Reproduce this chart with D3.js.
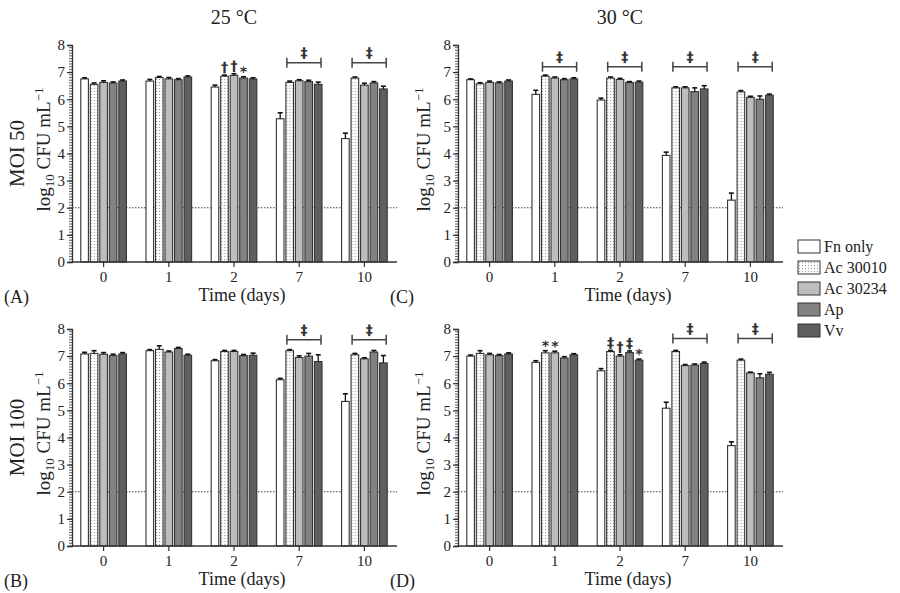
<!DOCTYPE html>
<html><head><meta charset="utf-8">
<script src="https://cdn.jsdelivr.net/npm/d3@7/dist/d3.min.js"></script>
<style>body{margin:0;background:#fff}svg{display:block}text{font-family:"Liberation Serif","Times New Roman",serif;fill:#222}text.sym{font-family:"DejaVu Sans",sans-serif;fill:#333}</style>
</head><body><svg id="c" width="900" height="593"></svg>
<script>
const days = ["0","1","2","7","10"];
const series = ["Fn only","Ac 30010","Ac 30234","Ap","Vv"];
const yTickValues = [0,1,2,3,4,5,6,7,8];
const detectionLimit = 2;

// Panel A: MOI 50, 25 °C  (rows = days, columns = series)
const meanA = [[6.75,6.55,6.62,6.60,6.67],[6.67,6.80,6.75,6.72,6.82],[6.45,6.85,6.88,6.78,6.75],[5.28,6.62,6.68,6.65,6.55],[4.55,6.78,6.52,6.60,6.38]];
const errA  = [[0.04,0.05,0.06,0.04,0.04],[0.06,0.04,0.05,0.04,0.04],[0.07,0.04,0.06,0.05,0.04],[0.22,0.05,0.04,0.05,0.08],[0.20,0.04,0.07,0.05,0.10]];
// Panel C: MOI 50, 30 °C
const meanC = [[6.72,6.57,6.62,6.60,6.67],[6.18,6.85,6.78,6.72,6.75],[5.97,6.78,6.73,6.62,6.63],[3.93,6.42,6.42,6.28,6.38],[2.28,6.27,6.07,6.00,6.15]];
const errC  = [[0.03,0.04,0.05,0.04,0.04],[0.15,0.04,0.04,0.04,0.04],[0.07,0.04,0.04,0.03,0.04],[0.12,0.04,0.04,0.14,0.12],[0.26,0.05,0.04,0.12,0.04]];
// Panel B: MOI 100, 25 °C
const meanB = [[7.08,7.10,7.07,7.02,7.08],[7.20,7.25,7.15,7.28,7.03],[6.83,7.17,7.17,7.02,7.03],[6.13,7.20,6.95,7.00,6.80],[5.33,7.05,6.90,7.15,6.75]];
const errB  = [[0.06,0.10,0.06,0.05,0.05],[0.04,0.13,0.04,0.04,0.04],[0.04,0.04,0.04,0.04,0.08],[0.05,0.04,0.06,0.10,0.25],[0.28,0.05,0.04,0.06,0.27]];
// Panel D: MOI 100, 30 °C
const meanD = [[7.00,7.10,7.05,7.02,7.08],[6.77,7.12,7.12,6.93,7.05],[6.46,7.17,7.00,7.13,6.85],[5.08,7.17,6.65,6.67,6.73],[3.70,6.85,6.38,6.20,6.33]];
const errD  = [[0.04,0.10,0.05,0.04,0.04],[0.06,0.08,0.06,0.05,0.04],[0.08,0.04,0.05,0.06,0.04],[0.22,0.04,0.04,0.04,0.05],[0.14,0.04,0.03,0.15,0.07]];

// significance marks: bracket over day (series 2..5) or single mark over one bar
const annA = [{day:"2",bar:1,sym:"†"},{day:"2",bar:2,sym:"†"},{day:"2",bar:3,sym:"*"},{day:"7",sym:"‡"},{day:"10",sym:"‡"}];
const annC = [{day:"1",sym:"‡"},{day:"2",sym:"‡"},{day:"7",sym:"‡"},{day:"10",sym:"‡"}];
const annB = [{day:"7",sym:"‡"},{day:"10",sym:"‡"}];
const annD = [{day:"1",bar:1,sym:"*"},{day:"1",bar:2,sym:"*"},{day:"2",bar:1,sym:"‡"},{day:"2",bar:2,sym:"†"},{day:"2",bar:3,sym:"‡"},{day:"2",bar:4,sym:"*"},{day:"7",sym:"‡"},{day:"10",sym:"‡"}];

const fills = ["#ffffff","url(#dots)","#bdbdbd","#828282","#5f5f5f"];

const svg = d3.select("#c");
const defs = svg.append("defs");
const pat = defs.append("pattern").attr("id","dots").attr("patternUnits","userSpaceOnUse").attr("width",3).attr("height",3);
pat.append("rect").attr("width",3).attr("height",3).attr("fill","#fbfbfb");
pat.append("rect").attr("x",1).attr("y",1).attr("width",1).attr("height",1).attr("fill","#9a9a9a");

const panels = [
  {mean:meanA, err:errA, ann:annA, ax:72,  top:45,  bot:262, brY:7.35, letter:"(A)", moi:"MOI 50",  title:"25 °C"},
  {mean:meanC, err:errC, ann:annC, ax:458, top:45,  bot:262, brY:7.2,  letter:"(C)", moi:null,      title:"30 °C"},
  {mean:meanB, err:errB, ann:annB, ax:72,  top:329, bot:546, brY:7.6,  letter:"(B)", moi:"MOI 100", title:null},
  {mean:meanD, err:errD, ann:annD, ax:458, top:329, bot:546, brY:7.65, letter:"(D)", moi:null,      title:null}
];

panels.forEach(p => {
  const g = svg.append("g");
  const right = p.ax + 325;
  const x = d3.scaleBand().domain(days).range([p.ax - 1, right]).paddingInner(0.3).paddingOuter(0.15);
  const xs = d3.scaleBand().domain(d3.range(series.length)).range([0, x.bandwidth()]).paddingInner(0.2);
  const y = d3.scaleLinear().domain([0, 8]).range([p.bot, p.top]);

  // minor ticks
  g.selectAll("line.minor").data(d3.range(0, 80).map(i => i / 10)).join("line")
    .attr("x1", p.ax - 3).attr("x2", p.ax).attr("y1", d => y(d)).attr("y2", d => y(d))
    .attr("stroke", "#333").attr("stroke-width", 0.8);

  // y axis
  const ya = g.append("g").attr("transform", `translate(${p.ax},0)`)
    .call(d3.axisLeft(y).tickValues(yTickValues).tickSize(5).tickPadding(2).tickFormat(d3.format("d")));
  ya.select(".domain").attr("stroke", "#333").attr("stroke-width", 1.3);
  ya.selectAll(".tick line").attr("stroke", "#333").attr("stroke-width", 1.2);
  ya.selectAll("text").attr("font-size", 15).attr("font-family", "Liberation Serif").attr("fill", "#222");

  // detection limit
  g.append("line").attr("x1", p.ax).attr("x2", right).attr("y1", y(detectionLimit)).attr("y2", y(detectionLimit))
    .attr("stroke", "#444").attr("stroke-width", 1).attr("stroke-dasharray", "1.5,1.5");

  // bars
  days.forEach((dy, di) => {
    const gg = g.append("g").attr("transform", `translate(${x(dy)},0)`);
    series.forEach((s, si) => {
      const v = p.mean[di][si], e = p.err[di][si];
      const bx = xs(si), bw = xs.bandwidth();
      gg.append("rect").attr("x", bx).attr("y", y(v)).attr("width", bw).attr("height", y(0) - y(v))
        .attr("fill", fills[si]).attr("stroke", "#333").attr("stroke-width", 1.1);
      const cx = bx + bw / 2;
      gg.append("line").attr("x1", cx).attr("x2", cx).attr("y1", y(v)).attr("y2", y(v + e)).attr("stroke", "#111").attr("stroke-width", 1.3);
      gg.append("line").attr("x1", cx - 2.5).attr("x2", cx + 2.5).attr("y1", y(v + e)).attr("y2", y(v + e)).attr("stroke", "#111").attr("stroke-width", 1.6);
    });
  });

  // x axis
  const xa = g.append("g").attr("transform", `translate(0,${p.bot})`)
    .call(d3.axisBottom(x).tickSize(5).tickPadding(4));
  xa.select(".domain").attr("d", `M${p.ax},0H${right}`).attr("stroke", "#333").attr("stroke-width", 1.3);
  xa.selectAll(".tick line").attr("stroke", "#333").attr("stroke-width", 1.2);
  xa.selectAll("text").attr("font-size", 15).attr("font-family", "Liberation Serif").attr("fill", "#222");

  // annotations (tiny rotation forces grayscale anti-aliasing)
  p.ann.forEach(a => {
    const di = days.indexOf(a.day);
    const x0 = x(a.day);
    let tx, ty;
    if (a.bar === undefined) {
      const xa1 = x0 + xs(1) + 1, xa2 = x0 + xs(4) + xs.bandwidth() - 1;
      const yy = y(p.brY);
      g.append("path").attr("d", `M${xa1},${yy-5}V${yy+5}M${xa1},${yy}H${xa2}M${xa2},${yy-5}V${yy+5}`)
        .attr("stroke", "#444").attr("stroke-width", 1.5).attr("fill", "none");
      tx = (xa1 + xa2) / 2; ty = yy - 5;
    } else {
      const v = p.mean[di][a.bar] + p.err[di][a.bar];
      tx = x0 + xs(a.bar) + xs.bandwidth() / 2; ty = y(v) - (a.sym === "*" ? 0 : 3);
    }
    g.append("text").attr("class", "sym").attr("transform", `translate(${tx},${ty}) rotate(0.5)`)
      .attr("text-anchor", "middle").attr("font-size", 14).attr("font-weight", "bold").text(a.sym);
  });

  // labels
  const mid = (p.top + p.bot) / 2;
  if (p.moi) {
    g.append("text").attr("transform", `translate(24,${mid}) rotate(-90)`).attr("text-anchor", "middle")
      .attr("font-size", 21).text(p.moi);
  }
  const lx = p.moi ? 50 : p.ax - 28;
  const lt = g.append("text").attr("transform", `translate(${lx},${mid - 4}) rotate(-90)`).attr("text-anchor", "middle").attr("font-size", 19);
  lt.append("tspan").text("log");
  lt.append("tspan").attr("font-size", 13).attr("dy", 4).text("10");
  lt.append("tspan").attr("dy", -4).text(" CFU mL");
  lt.append("tspan").attr("font-size", 13).attr("dy", -7).text("−1");

  g.append("text").attr("x", p.ax + 170).attr("y", p.bot + 39).attr("text-anchor", "middle").attr("font-size", 18).text("Time (days)");
  g.append("text").attr("x", p.ax - 68).attr("y", p.bot + 41).attr("font-size", 18).text(p.letter);
  if (p.title) g.append("text").attr("x", p.ax + 162).attr("y", 24).attr("text-anchor", "middle").attr("font-size", 20).text(p.title);
});

// legend
const lg = svg.append("g").attr("transform", "translate(798,240)");
series.forEach((s, i) => {
  lg.append("rect").attr("x", 0).attr("y", i * 21).attr("width", 22).attr("height", 13)
    .attr("fill", fills[i]).attr("stroke", "#333").attr("stroke-width", 1);
  lg.append("text").attr("x", 26).attr("y", i * 21 + 12).attr("font-size", 16).text(s);
});
</script></body></html>
